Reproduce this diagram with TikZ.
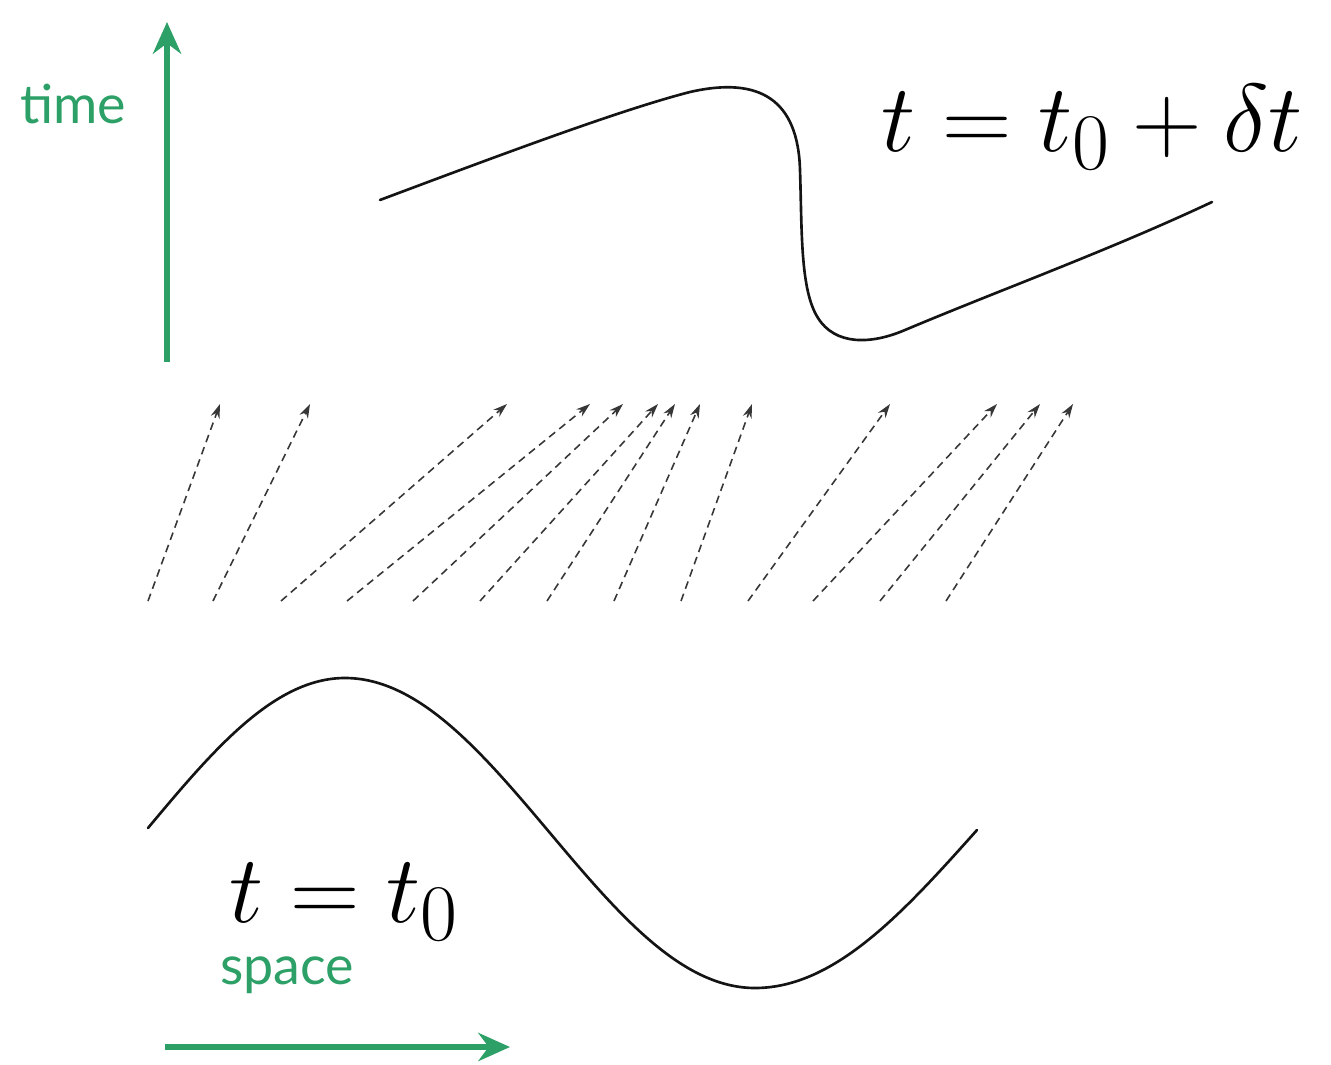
\documentclass[tikz,border=0pt]{standalone}
\usepackage{fontspec}
\usepackage{graphicx}
\usepackage{tikz}
\usetikzlibrary{arrows.meta,positioning,calc}
\newfontfamily\labelfont{Lato}
\definecolor{axiscolor}{RGB}{44,160,102}
\definecolor{curvecolor}{RGB}{20,20,20}
\definecolor{flowcolor}{RGB}{55,55,55}
\begin{document}
\begin{tikzpicture}[x=0.01cm, y=-0.01cm,
    axis/.style={axiscolor, line width=1.8pt, -{Stealth[length=9pt, width=8pt]}},
    wave/.style={curvecolor, line width=0.75pt, line cap=round},
    flow/.style={flowcolor, line width=0.45pt, dash pattern=on 2.2pt off 1.5pt, -{Stealth[length=4pt, width=2.6pt]}},
    axislabel/.style={axiscolor, font=\labelfont\fontsize{15.3}{17}\selectfont},
    timelabel/.style={font=\fontsize{24.88}{28}\selectfont}]
  \useasboundingbox (0,0) rectangle (1331,1064);
  % Axes: time (up) and space (right)
  \coordinate (time0) at (167,362);
  \coordinate (time1) at (167,22);
  \draw[axis] (time0) -- (time1);
  \node[axislabel] (timetxt) at (73,104) {time};
  \coordinate (space0) at (165,1047);
  \coordinate (space1) at (510,1047);
  \draw[axis] (space0) -- (space1);
  \node[axislabel] (spacetxt) at (287,975) {space};
  % Profile at t = t_0
  \draw[wave] (148,828) sin (345,678) cos (550,833) sin (755,988) cos (977,830);
  \node[timelabel] (tnow) at (344,902) {\scalebox{1.1}{$t = t_0$}};
  % Profile at t = t_0 + delta t: steepened front
  \draw[wave] (380,200) .. controls (500,155) and (620,110) .. (690,92)
    .. controls (760,76) and (798,100) .. (800,170)
    .. controls (802,230) and (800,290) .. (818,318)
    .. controls (835,345) and (870,345) .. (905,330)
    .. controls (1000,290) and (1110,250) .. (1212,202);
  \node[timelabel] (tlater) at (1092,127) {\scalebox{1.1}{$t = t_0 + \delta t$}};
  % Displacement of each point during delta t
  \foreach \i/\xs/\xe in {1/148/220, 2/213/310, 3/281/507, 4/347/590, 5/413/623,
      6/480/658, 7/547/675, 8/614/700, 9/681/752, 10/748/890, 11/813/997,
      12/880/1040, 13/946/1073} {
    \coordinate (foot\i) at (\xs,601);
    \coordinate (head\i) at (\xe,404);
    \draw[flow] (foot\i) -- (head\i);
  }
\end{tikzpicture}
\end{document}
